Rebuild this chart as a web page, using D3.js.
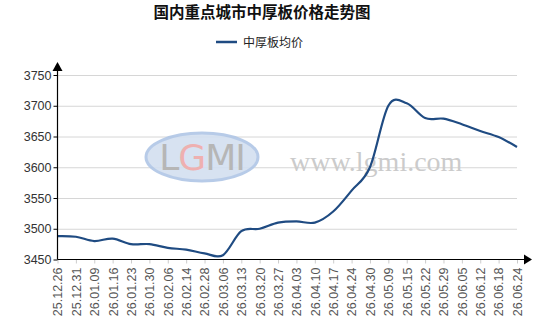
<!DOCTYPE html>
<html>
<head>
<meta charset="utf-8">
<script src="https://cdn.jsdelivr.net/npm/d3@7"></script>
<style>
  body { margin: 0; background: #fff; }
  svg { display: block; font-family: Arial, "Liberation Sans", "Noto Sans CJK SC", sans-serif; }
</style>
</head>
<body>
<div id="chart"></div>
<script>
// dates shown on the x axis
var dates = ["25.12.26","25.12.31","26.01.09","26.01.16","26.01.23","26.01.30","26.02.06",
    "26.02.14","26.02.28","26.03.06","26.03.13","26.03.20","26.03.27","26.04.03","26.04.10",
    "26.04.17","26.04.24","26.04.30","26.05.09","26.05.15","26.05.22","26.05.29","26.06.05",
    "26.06.12","26.06.18","26.06.24"];

// 中厚板均价
var prices = [3488,3487,3480,3484,3475,3475,3469,3466,3460,3457,3496,3500,3510,3512,3510,
    3528,3562,3600,3700,3704,3680,3679,3670,3659,3649,3633];

var yTicks = [3450,3500,3550,3600,3650,3700,3750];

var seriesName = "中厚板均价";
var title = "国内重点城市中厚板价格走势图";

var width = 538, height = 328;
var margin = {top: 75, right: 21, bottom: 68.5, left: 57.5};

var svg = d3.select("#chart").append("svg")
    .attr("width", width)
    .attr("height", height);

// set the ranges
var x = d3.scalePoint()
    .domain(dates)
    .range([margin.left, width - margin.right]);

var y = d3.scaleLinear()
    .domain([3450, 3750])
    .range([height - margin.bottom, margin.top]);

var lineColor = "#1f4b82";

// title
svg.append("text")
    .attr("x", 262)
    .attr("y", 18)
    .attr("text-anchor", "middle")
    .style("font-family", "'Noto Sans CJK SC', sans-serif")
    .style("font-size", "15.5px")
    .style("font-weight", "bold")
    .style("fill", "#111")
    .text(title);

// legend
svg.append("line")
    .attr("x1", 216).attr("x2", 237)
    .attr("y1", 42).attr("y2", 42)
    .attr("stroke", lineColor)
    .attr("stroke-width", 2.5);
svg.append("text")
    .attr("x", 243)
    .attr("y", 46.5)
    .style("font-family", "'Noto Sans CJK SC', sans-serif")
    .style("font-size", "12px")
    .style("fill", "#222")
    .text(seriesName);

// gridlines
svg.append("g")
    .attr("class", "grid")
    .attr("transform", "translate(" + margin.left + ",0)")
    .call(d3.axisLeft(y)
        .tickValues(yTicks.slice(1))
        .tickSize(-(x.range()[1] - margin.left))
        .tickFormat(""))
    .call(function(g) { g.select(".domain").remove(); })
    .selectAll("line")
    .attr("stroke", "#d6d6d6");

// watermark
var wm = svg.append("g").attr("class", "watermark");
wm.append("ellipse")
    .attr("cx", 202).attr("cy", 157)
    .attr("rx", 56).attr("ry", 24)
    .attr("fill", "#d3dff0")
    .attr("stroke", "#b0c6e6")
    .attr("stroke-width", 3)
    .attr("opacity", 0.9);
var logo = wm.append("text")
    .attr("x", 202).attr("y", 170)
    .attr("text-anchor", "middle")
    .style("font-family", "'DejaVu Sans', sans-serif")
    .style("font-size", "36px")
    .style("letter-spacing", "-1px")
    .style("fill", "#b6b6b6");
logo.append("tspan").text("L");
logo.append("tspan").style("fill", "#eeb0b0").text("G");
logo.append("tspan").text("MI");
wm.append("text")
    .attr("x", 290).attr("y", 171)
    .style("font-family", "'Liberation Serif', serif")
    .style("font-size", "28px")
    .style("fill", "#cbcbcb")
    .text("www.lgmi.com");

// the value line
var valueline = d3.line()
    .x(function(d, i) { return x(dates[i]); })
    .y(function(d) { return y(d); })
    .curve(d3.curveCardinal.tension(0));

svg.append("path")
    .datum(prices)
    .attr("fill", "none")
    .attr("stroke", lineColor)
    .attr("stroke-width", 2.2)
    .attr("d", valueline);

// x axis
var xAxis = svg.append("g")
    .attr("transform", "translate(0," + y(3450) + ")")
    .call(d3.axisBottom(x).tickSize(4).tickPadding(6));
xAxis.select(".domain").remove();
xAxis.selectAll(".tick line").attr("stroke", "#ccc");
xAxis.selectAll(".tick text")
    .attr("transform", "rotate(-90)")
    .attr("text-anchor", "end")
    .attr("x", -8)
    .attr("y", 0)
    .attr("dy", "0.35em")
    .style("font-family", "Arial, 'Liberation Sans', sans-serif")
    .style("font-size", "12.5px")
    .style("fill", "#555");

svg.append("line")
    .attr("x1", margin.left).attr("x2", 524)
    .attr("y1", y(3450)).attr("y2", y(3450))
    .attr("stroke", "#000").attr("stroke-width", 1.2);
svg.append("path")
    .attr("d", "M524," + (y(3450) - 5) + "L532," + y(3450) + "L524," + (y(3450) + 5) + "Z")
    .attr("fill", "#000");

// y axis
var yAxis = svg.append("g")
    .attr("transform", "translate(" + margin.left + ",0)")
    .call(d3.axisLeft(y).tickValues(yTicks).tickFormat(d3.format("d")).tickSize(4).tickPadding(2));
yAxis.select(".domain").remove();
yAxis.selectAll(".tick line").attr("stroke", "#000");
yAxis.selectAll(".tick text")
    .style("font-family", "Arial, 'Liberation Sans', sans-serif")
    .style("font-size", "12.5px")
    .style("fill", "#333");

svg.append("line")
    .attr("x1", margin.left).attr("x2", margin.left)
    .attr("y1", y(3450)).attr("y2", 70)
    .attr("stroke", "#000").attr("stroke-width", 1.2);
svg.append("path")
    .attr("d", "M" + (margin.left - 5) + ",71L" + margin.left + ",62L" + (margin.left + 5) + ",71Z")
    .attr("fill", "#000");
</script>
</body>
</html>
